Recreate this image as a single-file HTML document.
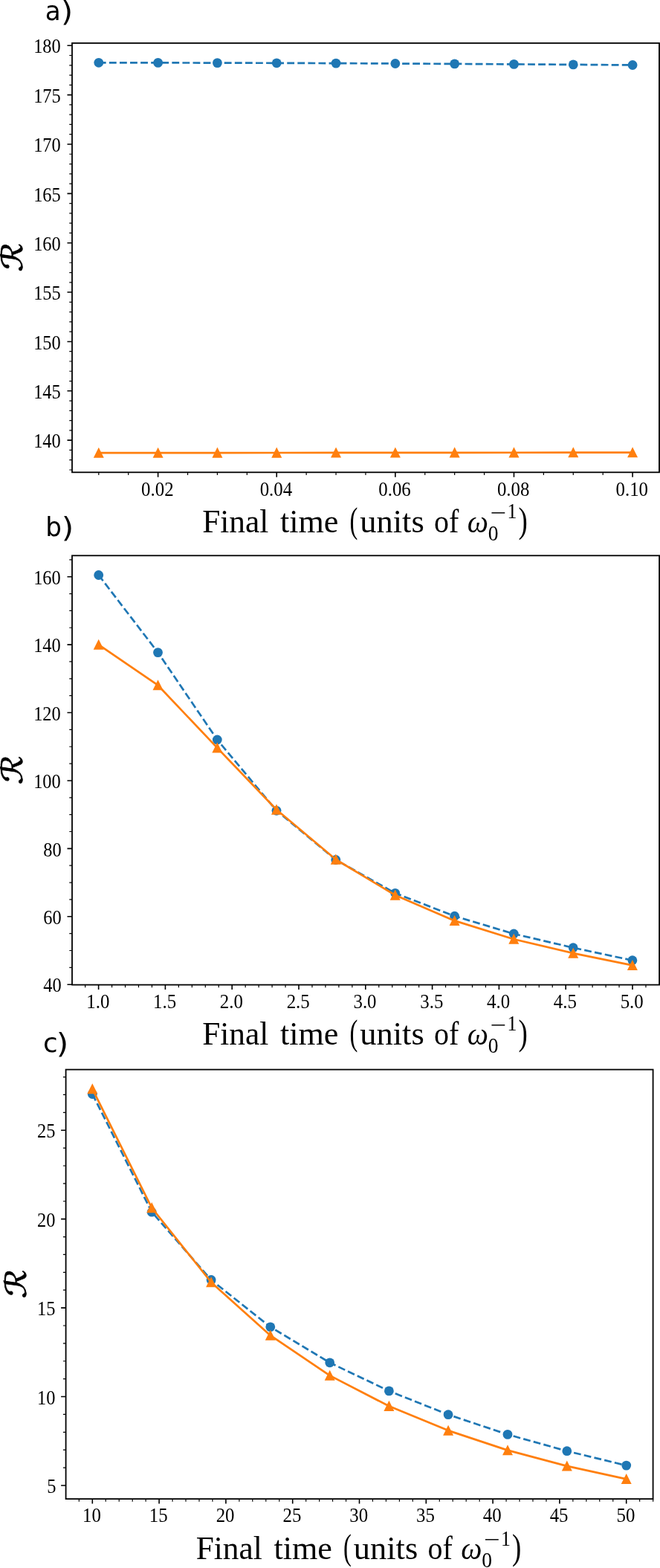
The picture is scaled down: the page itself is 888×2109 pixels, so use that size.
<!DOCTYPE html>
<html><head><meta charset="utf-8"><title>Figure</title>
<style>
html,body{margin:0;padding:0;background:#fff}
svg{display:block}
.s{font-family:"Liberation Serif","DejaVu Serif",serif;fill:#000}
.i{font-family:"Liberation Serif","DejaVu Serif",serif;font-style:italic}
.n{font-family:"DejaVu Sans","Liberation Sans",sans-serif;fill:#000}
.cal{font-family:"DejaVu Sans","Liberation Sans",sans-serif;fill:#000}
</style></head><body>
<svg width="888" height="2109" viewBox="0 0 888 2109">
<rect width="888" height="2109" fill="#fff"/>
<rect x="97" y="58" width="790" height="577.3" fill="none" stroke="#000" stroke-width="1.8"/>
<path d="M212.61 635.3v6.5M372.23 635.3v6.5M531.85 635.3v6.5M691.47 635.3v6.5M851.09 635.3v6.5M97 592.17h-6.5M97 525.81h-6.5M97 459.44h-6.5M97 393.07h-6.5M97 326.71h-6.5M97 260.35h-6.5M97 193.98h-6.5M97 127.61h-6.5M97 61.25h-6.5" stroke="#000" stroke-width="1.6" fill="none"/>
<path d="M132.8 635.3v3.7M172.71 635.3v3.7M252.52 635.3v3.7M292.42 635.3v3.7M332.33 635.3v3.7M412.14 635.3v3.7M452.04 635.3v3.7M491.94 635.3v3.7M571.75 635.3v3.7M611.66 635.3v3.7M651.57 635.3v3.7M731.38 635.3v3.7M771.28 635.3v3.7M811.19 635.3v3.7M97 631.99h-3.7M97 618.72h-3.7M97 605.44h-3.7M97 578.9h-3.7M97 565.62h-3.7M97 552.35h-3.7M97 539.08h-3.7M97 512.53h-3.7M97 499.26h-3.7M97 485.99h-3.7M97 472.71h-3.7M97 446.17h-3.7M97 432.89h-3.7M97 419.62h-3.7M97 406.35h-3.7M97 379.8h-3.7M97 366.53h-3.7M97 353.26h-3.7M97 339.98h-3.7M97 313.44h-3.7M97 300.16h-3.7M97 286.89h-3.7M97 273.62h-3.7M97 247.07h-3.7M97 233.8h-3.7M97 220.53h-3.7M97 207.25h-3.7M97 180.71h-3.7M97 167.43h-3.7M97 154.16h-3.7M97 140.89h-3.7M97 114.34h-3.7M97 101.07h-3.7M97 87.8h-3.7M97 74.52h-3.7" stroke="#000" stroke-width="1.2" fill="none"/>
<text class="s" transform="translate(211.81 667) scale(0.888 1)" font-size="28" text-anchor="middle">0.02</text>
<text class="s" transform="translate(371.43 667) scale(0.888 1)" font-size="28" text-anchor="middle">0.04</text>
<text class="s" transform="translate(531.05 667) scale(0.888 1)" font-size="28" text-anchor="middle">0.06</text>
<text class="s" transform="translate(690.67 667) scale(0.888 1)" font-size="28" text-anchor="middle">0.08</text>
<text class="s" transform="translate(850.29 667) scale(0.888 1)" font-size="28" text-anchor="middle">0.10</text>
<text class="s" transform="translate(81.8 602.37) scale(0.873 1)" font-size="28" text-anchor="end">140</text>
<text class="s" transform="translate(81.8 536.01) scale(0.873 1)" font-size="28" text-anchor="end">145</text>
<text class="s" transform="translate(81.8 469.64) scale(0.873 1)" font-size="28" text-anchor="end">150</text>
<text class="s" transform="translate(81.8 403.27) scale(0.873 1)" font-size="28" text-anchor="end">155</text>
<text class="s" transform="translate(81.8 336.91) scale(0.873 1)" font-size="28" text-anchor="end">160</text>
<text class="s" transform="translate(81.8 270.55) scale(0.873 1)" font-size="28" text-anchor="end">165</text>
<text class="s" transform="translate(81.8 204.18) scale(0.873 1)" font-size="28" text-anchor="end">170</text>
<text class="s" transform="translate(81.8 137.81) scale(0.873 1)" font-size="28" text-anchor="end">175</text>
<text class="s" transform="translate(81.8 71.45) scale(0.873 1)" font-size="28" text-anchor="end">180</text>
<polyline points="132.8,84.3 212.61,84.4 292.42,84.6 372.23,84.8 452.04,85.1 531.85,85.5 611.66,85.9 691.47,86.4 771.28,86.9 851.09,87.5" fill="none" stroke="#1f77b4" stroke-width="2.7" stroke-dasharray="9.83 4.25"/>
<circle cx="132.8" cy="84.3" r="6.4" fill="#1f77b4"/>
<circle cx="212.61" cy="84.4" r="6.4" fill="#1f77b4"/>
<circle cx="292.42" cy="84.6" r="6.4" fill="#1f77b4"/>
<circle cx="372.23" cy="84.8" r="6.4" fill="#1f77b4"/>
<circle cx="452.04" cy="85.1" r="6.4" fill="#1f77b4"/>
<circle cx="531.85" cy="85.5" r="6.4" fill="#1f77b4"/>
<circle cx="611.66" cy="85.9" r="6.4" fill="#1f77b4"/>
<circle cx="691.47" cy="86.4" r="6.4" fill="#1f77b4"/>
<circle cx="771.28" cy="86.9" r="6.4" fill="#1f77b4"/>
<circle cx="851.09" cy="87.5" r="6.4" fill="#1f77b4"/>
<polyline points="132.8,609.15 212.61,609.1 292.42,609.05 372.23,609 452.04,608.95 531.85,608.9 611.66,608.8 691.47,608.75 771.28,608.7 851.09,608.6" fill="none" stroke="#ff7f0e" stroke-width="2.7" stroke-linejoin="round"/>
<path d="M132.8 601.7l7.0 14.1h-14zM212.61 601.65l7.0 14.1h-14zM292.42 601.6l7.0 14.1h-14zM372.23 601.55l7.0 14.1h-14zM452.04 601.5l7.0 14.1h-14zM531.85 601.45l7.0 14.1h-14zM611.66 601.35l7.0 14.1h-14zM691.47 601.3l7.0 14.1h-14zM771.28 601.25l7.0 14.1h-14zM851.09 601.15l7.0 14.1h-14z" fill="#ff7f0e"/>
<text class="cal" transform="translate(30.2 346.85) rotate(-90) skewX(-8) scale(1.22 1)" font-size="39" text-anchor="middle" stroke="#000" stroke-width="0.8">ℛ</text>
<text class="s" transform="translate(272.13 716) scale(0.960 1)" font-size="45.2">Final</text>
<text class="s" transform="translate(377 716) scale(0.977 1)" font-size="45.2">time</text>
<text class="s" transform="translate(470.5 716.1) scale(0.672 1)" font-size="48.5">(</text>
<text class="s" transform="translate(484.36 716) scale(0.983 1)" font-size="45.2">units</text>
<text class="s" transform="translate(584.1 716) scale(0.885 1)" font-size="45.2">of</text>
<text class="i" transform="translate(628.8 715.9) scale(0.959 1)" font-size="41.7">ω</text>
<text class="s" transform="translate(656.77 727.2) scale(0.905 1)" font-size="30.4">0</text>
<text class="s" transform="translate(659.37 700.1) scale(1.261 1)" font-size="30.4">−</text>
<text class="s" transform="translate(682.53 697.4) scale(0.861 1)" font-size="30">1</text>
<text class="s" transform="translate(697.49 716.1) scale(0.761 1)" font-size="48.5">)</text>
<text class="n" transform="translate(60.84 27) scale(0.973 1)" font-size="35.2">a</text>
<text class="n" transform="translate(81.9 28.2) scale(1.099 1)" font-size="37.6">)</text>
<rect x="97" y="747.3" width="790.1" height="577.3" fill="none" stroke="#000" stroke-width="1.8"/>
<path d="M132.6 1324.6v6.5M222.4 1324.6v6.5M312.2 1324.6v6.5M402 1324.6v6.5M491.8 1324.6v6.5M581.6 1324.6v6.5M671.4 1324.6v6.5M761.2 1324.6v6.5M851 1324.6v6.5M97 1324.2h-6.5M97 1232.78h-6.5M97 1141.36h-6.5M97 1049.94h-6.5M97 958.52h-6.5M97 867.1h-6.5M97 775.68h-6.5" stroke="#000" stroke-width="1.6" fill="none"/>
<path d="M114.64 1324.6v3.7M150.56 1324.6v3.7M168.52 1324.6v3.7M186.48 1324.6v3.7M204.44 1324.6v3.7M240.36 1324.6v3.7M258.32 1324.6v3.7M276.28 1324.6v3.7M294.24 1324.6v3.7M330.16 1324.6v3.7M348.12 1324.6v3.7M366.08 1324.6v3.7M384.04 1324.6v3.7M419.96 1324.6v3.7M437.92 1324.6v3.7M455.88 1324.6v3.7M473.84 1324.6v3.7M509.76 1324.6v3.7M527.72 1324.6v3.7M545.68 1324.6v3.7M563.64 1324.6v3.7M599.56 1324.6v3.7M617.52 1324.6v3.7M635.48 1324.6v3.7M653.44 1324.6v3.7M689.36 1324.6v3.7M707.32 1324.6v3.7M725.28 1324.6v3.7M743.24 1324.6v3.7M779.16 1324.6v3.7M797.12 1324.6v3.7M815.08 1324.6v3.7M833.04 1324.6v3.7M868.96 1324.6v3.7M97 1301.35h-3.7M97 1278.49h-3.7M97 1255.63h-3.7M97 1209.92h-3.7M97 1187.07h-3.7M97 1164.22h-3.7M97 1118.51h-3.7M97 1095.65h-3.7M97 1072.8h-3.7M97 1027.09h-3.7M97 1004.23h-3.7M97 981.38h-3.7M97 935.67h-3.7M97 912.81h-3.7M97 889.96h-3.7M97 844.25h-3.7M97 821.39h-3.7M97 798.54h-3.7M97 752.83h-3.7" stroke="#000" stroke-width="1.2" fill="none"/>
<text class="s" transform="translate(131.8 1355.9) scale(0.888 1)" font-size="28" text-anchor="middle">1.0</text>
<text class="s" transform="translate(221.6 1355.9) scale(0.888 1)" font-size="28" text-anchor="middle">1.5</text>
<text class="s" transform="translate(311.4 1355.9) scale(0.888 1)" font-size="28" text-anchor="middle">2.0</text>
<text class="s" transform="translate(401.2 1355.9) scale(0.888 1)" font-size="28" text-anchor="middle">2.5</text>
<text class="s" transform="translate(491 1355.9) scale(0.888 1)" font-size="28" text-anchor="middle">3.0</text>
<text class="s" transform="translate(580.8 1355.9) scale(0.888 1)" font-size="28" text-anchor="middle">3.5</text>
<text class="s" transform="translate(670.6 1355.9) scale(0.888 1)" font-size="28" text-anchor="middle">4.0</text>
<text class="s" transform="translate(760.4 1355.9) scale(0.888 1)" font-size="28" text-anchor="middle">4.5</text>
<text class="s" transform="translate(850.2 1355.9) scale(0.888 1)" font-size="28" text-anchor="middle">5.0</text>
<text class="s" transform="translate(82.8 1334.4) scale(0.873 1)" font-size="28" text-anchor="end">40</text>
<text class="s" transform="translate(82.8 1242.98) scale(0.873 1)" font-size="28" text-anchor="end">60</text>
<text class="s" transform="translate(82.8 1151.56) scale(0.873 1)" font-size="28" text-anchor="end">80</text>
<text class="s" transform="translate(81.8 1060.14) scale(0.873 1)" font-size="28" text-anchor="end">100</text>
<text class="s" transform="translate(81.8 968.72) scale(0.873 1)" font-size="28" text-anchor="end">120</text>
<text class="s" transform="translate(81.8 877.3) scale(0.873 1)" font-size="28" text-anchor="end">140</text>
<text class="s" transform="translate(81.8 785.88) scale(0.873 1)" font-size="28" text-anchor="end">160</text>
<polyline points="132.7,773.5 212.5,877.6 292.3,995 372,1090.3 451.8,1156.5 531.7,1201.3 611.6,1232.2 691.3,1256 771.2,1274.7 850.9,1291.7" fill="none" stroke="#1f77b4" stroke-width="2.7" stroke-dasharray="9.83 4.25"/>
<circle cx="132.7" cy="773.5" r="6.4" fill="#1f77b4"/>
<circle cx="212.5" cy="877.6" r="6.4" fill="#1f77b4"/>
<circle cx="292.3" cy="995" r="6.4" fill="#1f77b4"/>
<circle cx="372" cy="1090.3" r="6.4" fill="#1f77b4"/>
<circle cx="451.8" cy="1156.5" r="6.4" fill="#1f77b4"/>
<circle cx="531.7" cy="1201.3" r="6.4" fill="#1f77b4"/>
<circle cx="611.6" cy="1232.2" r="6.4" fill="#1f77b4"/>
<circle cx="691.3" cy="1256" r="6.4" fill="#1f77b4"/>
<circle cx="771.2" cy="1274.7" r="6.4" fill="#1f77b4"/>
<circle cx="850.9" cy="1291.7" r="6.4" fill="#1f77b4"/>
<polyline points="132.7,867.1 212.5,921.7 292.3,1005.9 372,1089 451.8,1156 531.7,1204 611.6,1238.4 691.3,1263.2 771.2,1282.1 850.9,1298.4" fill="none" stroke="#ff7f0e" stroke-width="2.7" stroke-linejoin="round"/>
<path d="M132.7 859.65l7.0 14.1h-14zM212.5 914.25l7.0 14.1h-14zM292.3 998.45l7.0 14.1h-14zM372 1081.55l7.0 14.1h-14zM451.8 1148.55l7.0 14.1h-14zM531.7 1196.55l7.0 14.1h-14zM611.6 1230.95l7.0 14.1h-14zM691.3 1255.75l7.0 14.1h-14zM771.2 1274.65l7.0 14.1h-14zM850.9 1290.95l7.0 14.1h-14z" fill="#ff7f0e"/>
<text class="cal" transform="translate(30.2 1036.15) rotate(-90) skewX(-8) scale(1.22 1)" font-size="39" text-anchor="middle" stroke="#000" stroke-width="0.8">ℛ</text>
<text class="s" transform="translate(272.13 1404.8) scale(0.960 1)" font-size="45.2">Final</text>
<text class="s" transform="translate(377 1404.8) scale(0.977 1)" font-size="45.2">time</text>
<text class="s" transform="translate(470.5 1404.9) scale(0.672 1)" font-size="48.5">(</text>
<text class="s" transform="translate(484.36 1404.8) scale(0.983 1)" font-size="45.2">units</text>
<text class="s" transform="translate(584.1 1404.8) scale(0.885 1)" font-size="45.2">of</text>
<text class="i" transform="translate(628.8 1404.7) scale(0.959 1)" font-size="41.7">ω</text>
<text class="s" transform="translate(656.77 1416) scale(0.905 1)" font-size="30.4">0</text>
<text class="s" transform="translate(659.37 1388.9) scale(1.261 1)" font-size="30.4">−</text>
<text class="s" transform="translate(682.53 1386.2) scale(0.861 1)" font-size="30">1</text>
<text class="s" transform="translate(697.49 1404.9) scale(0.761 1)" font-size="48.5">)</text>
<text class="n" transform="translate(61.17 720.8) scale(0.972 1)" font-size="35.2">b</text>
<text class="n" transform="translate(82.83 722) scale(1.122 1)" font-size="37.6">)</text>
<rect x="88.6" y="1438.6" width="790" height="577.5" fill="none" stroke="#000" stroke-width="1.8"/>
<path d="M124.3 2016.1v6.5M214.1 2016.1v6.5M303.9 2016.1v6.5M393.7 2016.1v6.5M483.5 2016.1v6.5M573.3 2016.1v6.5M663.1 2016.1v6.5M752.9 2016.1v6.5M842.7 2016.1v6.5M88.6 1998h-6.5M88.6 1878.55h-6.5M88.6 1759.1h-6.5M88.6 1639.65h-6.5M88.6 1520.2h-6.5" stroke="#000" stroke-width="1.6" fill="none"/>
<path d="M106.34 2016.1v3.7M142.26 2016.1v3.7M160.22 2016.1v3.7M178.18 2016.1v3.7M196.14 2016.1v3.7M232.06 2016.1v3.7M250.02 2016.1v3.7M267.98 2016.1v3.7M285.94 2016.1v3.7M321.86 2016.1v3.7M339.82 2016.1v3.7M357.78 2016.1v3.7M375.74 2016.1v3.7M411.66 2016.1v3.7M429.62 2016.1v3.7M447.58 2016.1v3.7M465.54 2016.1v3.7M501.46 2016.1v3.7M519.42 2016.1v3.7M537.38 2016.1v3.7M555.34 2016.1v3.7M591.26 2016.1v3.7M609.22 2016.1v3.7M627.18 2016.1v3.7M645.14 2016.1v3.7M681.06 2016.1v3.7M699.02 2016.1v3.7M716.98 2016.1v3.7M734.94 2016.1v3.7M770.86 2016.1v3.7M788.82 2016.1v3.7M806.78 2016.1v3.7M824.74 2016.1v3.7M860.66 2016.1v3.7M878.62 2016.1v3.7M88.6 1974.11h-3.7M88.6 1950.22h-3.7M88.6 1926.33h-3.7M88.6 1902.44h-3.7M88.6 1854.66h-3.7M88.6 1830.77h-3.7M88.6 1806.88h-3.7M88.6 1782.99h-3.7M88.6 1735.21h-3.7M88.6 1711.32h-3.7M88.6 1687.43h-3.7M88.6 1663.54h-3.7M88.6 1615.76h-3.7M88.6 1591.87h-3.7M88.6 1567.98h-3.7M88.6 1544.09h-3.7M88.6 1496.31h-3.7M88.6 1472.42h-3.7M88.6 1448.53h-3.7" stroke="#000" stroke-width="1.2" fill="none"/>
<text class="s" transform="translate(123.5 2046.9) scale(0.888 1)" font-size="28" text-anchor="middle">10</text>
<text class="s" transform="translate(213.3 2046.9) scale(0.888 1)" font-size="28" text-anchor="middle">15</text>
<text class="s" transform="translate(303.1 2046.9) scale(0.888 1)" font-size="28" text-anchor="middle">20</text>
<text class="s" transform="translate(392.9 2046.9) scale(0.888 1)" font-size="28" text-anchor="middle">25</text>
<text class="s" transform="translate(482.7 2046.9) scale(0.888 1)" font-size="28" text-anchor="middle">30</text>
<text class="s" transform="translate(572.5 2046.9) scale(0.888 1)" font-size="28" text-anchor="middle">35</text>
<text class="s" transform="translate(662.3 2046.9) scale(0.888 1)" font-size="28" text-anchor="middle">40</text>
<text class="s" transform="translate(752.1 2046.9) scale(0.888 1)" font-size="28" text-anchor="middle">45</text>
<text class="s" transform="translate(841.9 2046.9) scale(0.888 1)" font-size="28" text-anchor="middle">50</text>
<text class="s" transform="translate(75.5 2008.2) scale(0.873 1)" font-size="28" text-anchor="end">5</text>
<text class="s" transform="translate(74.5 1888.75) scale(0.873 1)" font-size="28" text-anchor="end">10</text>
<text class="s" transform="translate(74.5 1769.3) scale(0.873 1)" font-size="28" text-anchor="end">15</text>
<text class="s" transform="translate(74.5 1649.85) scale(0.873 1)" font-size="28" text-anchor="end">20</text>
<text class="s" transform="translate(74.5 1530.4) scale(0.873 1)" font-size="28" text-anchor="end">25</text>
<polyline points="124.3,1471.5 204.2,1630.2 284.1,1721.5 363.8,1784.8 443.7,1832.8 523.4,1870.9 603.1,1902.7 683,1929.4 762.8,1951.7 842.7,1971.1" fill="none" stroke="#1f77b4" stroke-width="2.7" stroke-dasharray="9.83 4.25"/>
<circle cx="124.3" cy="1471.5" r="6.4" fill="#1f77b4"/>
<circle cx="204.2" cy="1630.2" r="6.4" fill="#1f77b4"/>
<circle cx="284.1" cy="1721.5" r="6.4" fill="#1f77b4"/>
<circle cx="363.8" cy="1784.8" r="6.4" fill="#1f77b4"/>
<circle cx="443.7" cy="1832.8" r="6.4" fill="#1f77b4"/>
<circle cx="523.4" cy="1870.9" r="6.4" fill="#1f77b4"/>
<circle cx="603.1" cy="1902.7" r="6.4" fill="#1f77b4"/>
<circle cx="683" cy="1929.4" r="6.4" fill="#1f77b4"/>
<circle cx="762.8" cy="1951.7" r="6.4" fill="#1f77b4"/>
<circle cx="842.7" cy="1971.1" r="6.4" fill="#1f77b4"/>
<polyline points="124.3,1464.7 204.2,1624.5 284.1,1724.7 363.8,1796.2 443.7,1850.1 523.4,1891.3 603.1,1924.1 683,1950.6 762.8,1971.9 842.7,1989.4" fill="none" stroke="#ff7f0e" stroke-width="2.7" stroke-linejoin="round"/>
<path d="M124.3 1457.25l7.0 14.1h-14zM204.2 1617.05l7.0 14.1h-14zM284.1 1717.25l7.0 14.1h-14zM363.8 1788.75l7.0 14.1h-14zM443.7 1842.65l7.0 14.1h-14zM523.4 1883.85l7.0 14.1h-14zM603.1 1916.65l7.0 14.1h-14zM683 1943.15l7.0 14.1h-14zM762.8 1964.45l7.0 14.1h-14zM842.7 1981.95l7.0 14.1h-14z" fill="#ff7f0e"/>
<text class="cal" transform="translate(34.9 1727.55) rotate(-90) skewX(-8) scale(1.22 1)" font-size="39" text-anchor="middle" stroke="#000" stroke-width="0.8">ℛ</text>
<text class="s" transform="translate(263.63 2097.1) scale(0.960 1)" font-size="45.2">Final</text>
<text class="s" transform="translate(368.5 2097.1) scale(0.977 1)" font-size="45.2">time</text>
<text class="s" transform="translate(462 2097.2) scale(0.672 1)" font-size="48.5">(</text>
<text class="s" transform="translate(475.86 2097.1) scale(0.983 1)" font-size="45.2">units</text>
<text class="s" transform="translate(575.6 2097.1) scale(0.885 1)" font-size="45.2">of</text>
<text class="i" transform="translate(620.3 2097) scale(0.959 1)" font-size="41.7">ω</text>
<text class="s" transform="translate(648.27 2108.3) scale(0.905 1)" font-size="30.4">0</text>
<text class="s" transform="translate(650.87 2081.2) scale(1.261 1)" font-size="30.4">−</text>
<text class="s" transform="translate(674.03 2078.5) scale(0.861 1)" font-size="30">1</text>
<text class="s" transform="translate(688.99 2097.2) scale(0.761 1)" font-size="48.5">)</text>
<text class="n" transform="translate(58.12 1414.8) scale(1.014 1)" font-size="35.2">c</text>
<text class="n" transform="translate(75.73 1416) scale(1.122 1)" font-size="37.6">)</text>
</svg>
</body></html>
